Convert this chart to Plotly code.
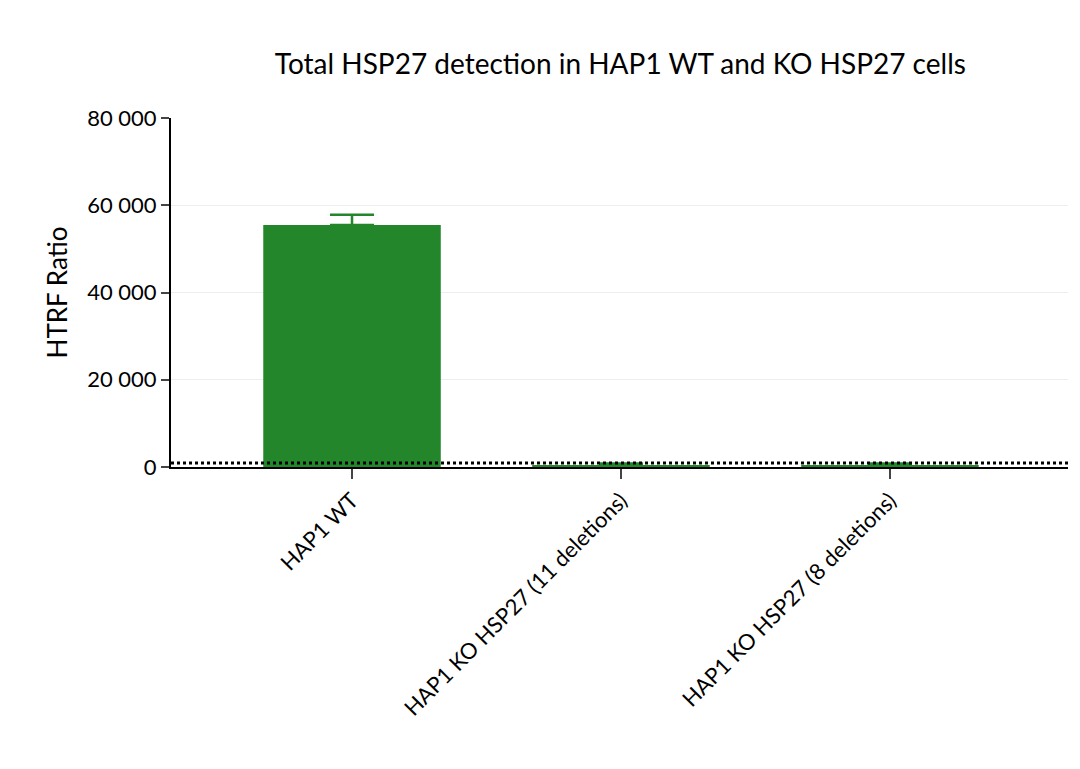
import plotly.graph_objects as go

categories = ["HAP1 WT", "HAP1 KO HSP27 (11 deletions)", "HAP1 KO HSP27 (8 deletions)"]
values = [55500, 400, 400]
errors = [2300, 400, 400]
threshold = 900

fig = go.Figure()
fig.add_bar(x=[0, 1, 2], y=values, marker_color="#23862b", marker_line_width=0, width=0.66,
            error_y=dict(type="data", array=errors, symmetric=False, arrayminus=[0]*3, color="#23862b", thickness=2.5, width=22))
fig.add_shape(type="line", xref="paper", x0=0, x1=1, y0=threshold, y1=threshold,
              line=dict(color="black", width=3, dash="dot"))
fig.update_layout(
    width=1080, height=769, plot_bgcolor="white", paper_bgcolor="white",
    font=dict(family="Lato", size=22, color="black"),
    title=dict(text="Total HSP27 detection in HAP1 WT and KO HSP27 cells", x=0.567, xanchor="center", y=0.94, font=dict(size=28)),
    margin=dict(l=163, r=20, t=110, b=310), showlegend=False,
)
fig.update_xaxes(range=[-0.673, 2.662], tickvals=[0, 1, 2], ticktext=categories,
                 showline=True, linecolor="black", linewidth=2, ticks="outside", ticklen=10, tickwidth=1.5, tickangle=-45)
fig.update_yaxes(range=[0, 80000], dtick=20000, tickformat=",d",
                 showline=True, linecolor="black", linewidth=2, ticks="outside", ticklen=8, tickwidth=1.5,
                 gridcolor="#eeeeee", zeroline=False, title=dict(text="HTRF Ratio", standoff=12))
fig.update_layout(separators=". ")
fig.write_html("out.html")
